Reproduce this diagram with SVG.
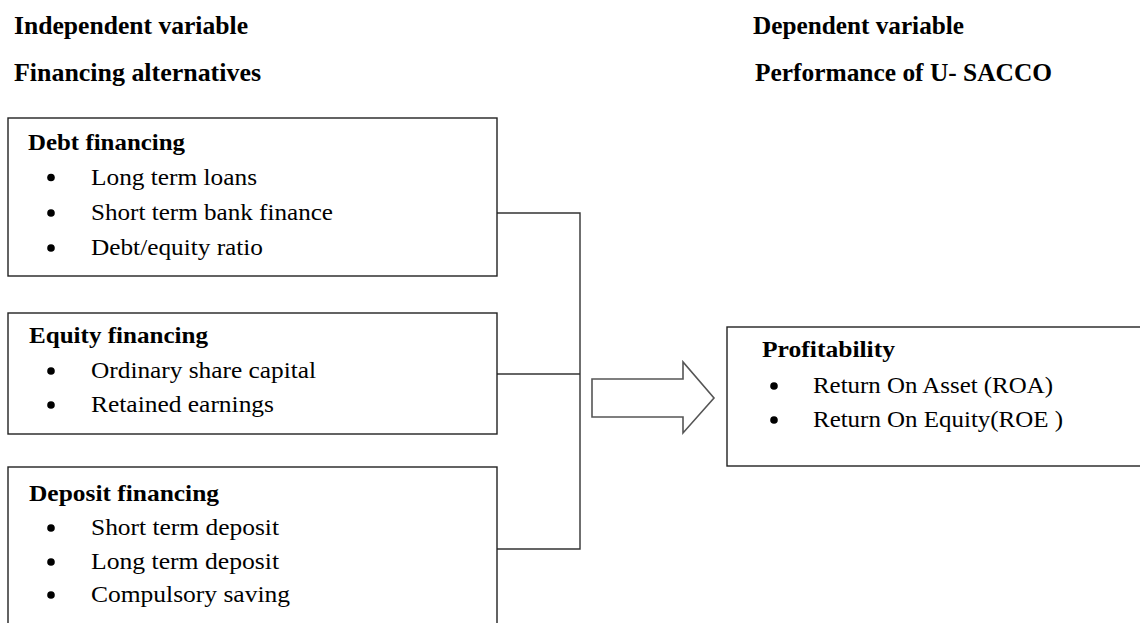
<svg xmlns="http://www.w3.org/2000/svg" width="1140" height="623" viewBox="0 0 1140 623">
<style>
.hd{font-family:"Liberation Serif","Times New Roman",serif;font-weight:bold;font-size:25px;fill:#000}
.tt{font-family:"Liberation Serif","Times New Roman",serif;font-weight:bold;font-size:23px;fill:#000}
.bd{font-family:"Liberation Serif","Times New Roman",serif;font-size:24px;fill:#000}
.box{fill:#fff;stroke:#222;stroke-width:1.4}
.con{fill:none;stroke:#333;stroke-width:1.4}
.arr{fill:#fff;stroke:#555;stroke-width:1.6}
</style>
<rect width="1140" height="623" fill="#fff"/>
<g id="headers">
<text class="hd" x="14" y="34" textLength="234" lengthAdjust="spacingAndGlyphs">Independent variable</text>
<text class="hd" x="14" y="81" textLength="247" lengthAdjust="spacingAndGlyphs">Financing alternatives</text>
<text class="hd" x="753" y="34" textLength="211" lengthAdjust="spacingAndGlyphs">Dependent variable</text>
<text class="hd" x="755" y="81" textLength="297" lengthAdjust="spacingAndGlyphs">Performance of U- SACCO</text>
</g>
<g id="connectors">
<polyline class="con" points="497,213 580,213 580,549 497,549"/>
<line class="con" x1="497" y1="374" x2="580" y2="374"/>
<polygon class="arr" points="592,379 683,379 683,362 714,398 683,433 683,417 592,417"/>
</g>
<g id="debt">
<rect class="box" x="8" y="118" width="489" height="158"/>
<text class="tt" x="28" y="150" textLength="157" lengthAdjust="spacingAndGlyphs">Debt financing</text>
<circle cx="51" cy="177.5" r="3.8"/><text class="bd" x="91" y="185" textLength="166" lengthAdjust="spacingAndGlyphs">Long term loans</text>
<circle cx="51" cy="213" r="3.8"/><text class="bd" x="91" y="220" textLength="242" lengthAdjust="spacingAndGlyphs">Short term bank finance</text>
<circle cx="51" cy="248" r="3.8"/><text class="bd" x="91" y="255" textLength="172" lengthAdjust="spacingAndGlyphs">Debt/equity ratio</text>
</g>
<g id="equity">
<rect class="box" x="8" y="313" width="489" height="121"/>
<text class="tt" x="29" y="343" textLength="179" lengthAdjust="spacingAndGlyphs">Equity financing</text>
<circle cx="51" cy="371" r="3.8"/><text class="bd" x="91" y="378" textLength="225" lengthAdjust="spacingAndGlyphs">Ordinary share capital</text>
<circle cx="51" cy="405" r="3.8"/><text class="bd" x="91" y="412" textLength="183" lengthAdjust="spacingAndGlyphs">Retained earnings</text>
</g>
<g id="deposit">
<rect class="box" x="8" y="467" width="489" height="180"/>
<text class="tt" x="29" y="501" textLength="190" lengthAdjust="spacingAndGlyphs">Deposit financing</text>
<circle cx="51" cy="528" r="3.8"/><text class="bd" x="91" y="535" textLength="188" lengthAdjust="spacingAndGlyphs">Short term deposit</text>
<circle cx="51" cy="562" r="3.8"/><text class="bd" x="91" y="569" textLength="188" lengthAdjust="spacingAndGlyphs">Long term deposit</text>
<circle cx="51" cy="595" r="3.8"/><text class="bd" x="91" y="602" textLength="199" lengthAdjust="spacingAndGlyphs">Compulsory saving</text>
</g>
<g id="profitability">
<rect class="box" x="727" y="327" width="430" height="139"/>
<text class="tt" x="762" y="357" textLength="133" lengthAdjust="spacingAndGlyphs">Profitability</text>
<circle cx="774" cy="386" r="3.8"/><text class="bd" x="813" y="393" textLength="240" lengthAdjust="spacingAndGlyphs">Return On Asset (ROA)</text>
<circle cx="774" cy="420" r="3.8"/><text class="bd" x="813" y="427" textLength="250" lengthAdjust="spacingAndGlyphs">Return On Equity(ROE )</text>
</g>
</svg>
